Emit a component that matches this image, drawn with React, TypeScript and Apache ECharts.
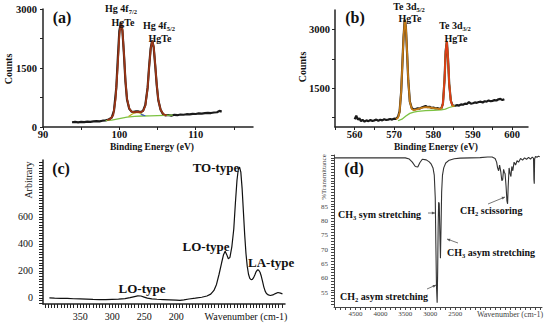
import React, { useEffect, useRef } from "react";
import * as echarts from "echarts";

const SERIF = "Liberation Serif";

// ---------- Panel (a): Hg 4f XPS ----------
const hgData: [number, number][] = [
  [93.8, 120], [94.2, 128], [94.6, 118], [95.0, 132], [95.4, 125], [95.8, 138], [96.2, 130], [96.6, 142],
  [97.0, 150], [97.4, 145], [97.8, 160], [98.2, 170], [98.6, 190], [99.0, 240], [99.3, 420], [99.6, 1000],
  [99.8, 1750], [100.0, 2450], [100.2, 2650], [100.4, 2450], [100.6, 1850], [100.8, 1150], [101.0, 700],
  [101.3, 460], [101.6, 390], [101.9, 385], [102.2, 400], [102.5, 395], [102.8, 380], [103.1, 410],
  [103.4, 560], [103.7, 1000], [103.9, 1550], [104.1, 2000], [104.3, 2200], [104.5, 2020], [104.7, 1550],
  [104.9, 1050], [105.1, 680], [105.4, 440], [105.7, 330], [106.0, 295], [106.4, 305], [106.8, 290],
  [107.2, 310], [107.6, 300], [108.0, 318], [108.4, 312], [108.8, 325], [109.2, 320], [109.6, 335],
  [110.0, 330], [110.4, 345], [110.8, 340], [111.2, 352], [111.6, 360], [112.0, 355], [112.4, 368],
  [112.8, 375], [113.1, 410], [113.4, 390],
];
const hgFit: [number, number][] = [
  [98.4, 175], [98.8, 200], [99.2, 300], [99.5, 700], [99.8, 1600], [100.0, 2350], [100.2, 2640],
  [100.4, 2480], [100.6, 1880], [100.8, 1180], [101.0, 720], [101.3, 470], [101.6, 390], [102.0, 375],
  [102.4, 385], [102.8, 380], [103.1, 400], [103.4, 540], [103.7, 980], [103.9, 1520], [104.1, 1980],
  [104.3, 2190], [104.5, 2040], [104.7, 1580], [104.9, 1070], [105.1, 690], [105.4, 440], [105.8, 320],
  [106.2, 295],
];
const hgBackground: [number, number][] = [
  [98.2, 160], [99, 175], [100, 215], [101, 250], [102, 270], [103, 280], [104, 285], [105, 290],
  [106, 295], [107, 300],
];
const hgSatellite: [number, number][] = [
  [101.2, 265], [101.6, 320], [102.0, 360], [102.4, 370], [102.8, 345], [103.2, 290],
];
const hgSatellite2: [number, number][] = [[102.8, 330], [103.1, 300], [103.4, 285]];
const hgXTicks = [90, 95, 100, 105, 110, 115];
const hgXLabels = [90, 100, 110];
const hgYTicks = [0, 750, 1500, 2250, 3000];
const hgYLabels = [0, 1500, 3000];

// ---------- Panel (b): Te 3d XPS ----------
const teData: [number, number][] = [
  [560, 700], [560.4, 790], [560.8, 690], [561.2, 720], [561.6, 650], [562, 680], [562.5, 640], [563, 670],
  [563.5, 650], [564, 680], [564.5, 655], [565, 670], [565.5, 690], [566, 660], [566.5, 685], [567, 670],
  [567.5, 700], [568, 680], [568.5, 690], [569, 705], [569.5, 690], [570, 715], [570.5, 710], [571, 760],
  [571.4, 900], [571.8, 1400], [572.1, 2100], [572.4, 2800], [572.7, 3250], [573.0, 3050], [573.3, 2400],
  [573.6, 1700], [574.0, 1150], [574.5, 980], [575, 950], [575.5, 960], [576, 980], [576.5, 970],
  [577, 1000], [577.5, 1020], [578, 1040], [578.5, 1010], [579, 1020], [579.5, 990], [580, 1000],
  [580.5, 975], [581, 985], [581.5, 960], [582, 980], [582.4, 1100], [582.8, 1700], [583.1, 2450],
  [583.4, 2700], [583.7, 2250], [584.0, 1600], [584.4, 1180], [584.8, 1060], [585.3, 1040], [586, 1060],
  [586.5, 1050], [587, 1080], [587.5, 1070], [588, 1100], [588.5, 1090], [589, 1140], [589.5, 1100],
  [590, 1110], [590.5, 1130], [591, 1120], [591.5, 1140], [592, 1150], [592.5, 1130], [593, 1160],
  [593.5, 1150], [594, 1180], [594.5, 1160], [595, 1170], [595.5, 1190], [596, 1180], [596.5, 1210],
  [597, 1220], [597.5, 1190], [598, 1210],
];
const teFit: [number, number][] = [
  [570.5, 700], [571, 740], [571.4, 880], [571.8, 1400], [572.1, 2100], [572.4, 2800], [572.7, 3230],
  [573.0, 3060], [573.3, 2420], [573.6, 1700], [574.0, 1150], [574.5, 960], [575, 930], [576, 960],
  [577, 990], [578, 1010], [579, 1000], [580, 985], [581, 970], [581.5, 960], [582, 975], [582.4, 1090],
  [582.8, 1700], [583.1, 2430], [583.4, 2690], [583.7, 2260], [584.0, 1600], [584.4, 1170], [584.8, 1050],
  [585.3, 1030],
];
const tePeak2: [number, number][] = [
  [582.2, 1000], [582.5, 1200], [582.8, 1700], [583.1, 2430], [583.4, 2690], [583.7, 2260], [584.0, 1600],
  [584.4, 1170], [584.8, 1060],
];
const teBackground: [number, number][] = [
  [571, 660], [572, 700], [573, 780], [574, 850], [575, 880], [576, 900], [578, 920], [580, 930],
  [582, 940], [583, 960], [584, 1000], [585, 1030], [585.5, 1040],
];
const teXTicks = [555, 560, 565, 570, 575, 580, 585, 590, 595, 600];
const teXLabels = [560, 570, 580, 590, 600];
const teYTicks = [750, 1500, 2250, 3000];
const teYLabels = [1500, 3000];

// ---------- Panel (c): Raman ----------
const ramanData: [number, number][] = [
  [398, 0], [390, -2], [380, -3], [370, -4], [360, -6], [350, -7], [340, -9], [330, -11], [320, -12],
  [310, -13], [300, -11], [290, -9], [280, -5], [272, 2], [265, 10], [260, 15], [255, 14], [250, 6],
  [245, -2], [238, -7], [230, -10], [220, -12], [210, -14], [200, -16], [194, -18], [188, -14], [180, -8],
  [170, -2], [160, 5], [152, 14], [146, 28], [141, 55], [137, 100], [133, 175], [129, 260], [126, 320],
  [123.5, 345], [121, 320], [118.5, 290], [116, 300], [113, 380], [110, 510], [107.5, 700], [105, 870],
  [103, 950], [101, 968], [99, 930], [97, 810], [95, 640], [93, 470], [91, 330], [89, 235], [87, 175],
  [85, 145], [83, 135], [81, 137], [79, 150], [77, 172], [75, 195], [73, 207], [71, 205], [69, 190],
  [67, 160], [65, 120], [63, 80], [61, 50], [59, 33], [56, 22], [53, 18], [49, 22], [45, 32], [41, 40],
  [37, 35], [34, 30],
];
const ramanXLabels = [350, 300, 250, 200];
const ramanYLabels = [0, 200, 400, 600];

// ---------- Panel (d): FTIR ----------
const ftirData: [number, number][] = [
  [4920, 102], [4600, 102], [4200, 102], [3800, 102], [3500, 102], [3420, 101.6], [3360, 100.5],
  [3300, 99], [3250, 98.8], [3210, 100.3], [3160, 101.5], [3080, 101.3], [3020, 100.6], [2980, 99.8],
  [2945, 98.5], [2920, 96], [2900, 88], [2888, 72], [2875, 57], [2862, 51.5], [2852, 62], [2842, 78],
  [2832, 86.5], [2820, 86], [2808, 76], [2796, 67], [2784, 78], [2772, 90], [2755, 96], [2730, 98.5],
  [2690, 100.2], [2620, 101.2], [2520, 101.7], [2400, 101.9], [2200, 102], [2000, 102.1], [1850, 102.3],
  [1760, 102.3], [1700, 101.8], [1670, 100.5], [1650, 98.5], [1630, 97.5], [1610, 99.5], [1585, 97],
  [1565, 94], [1548, 94.5], [1530, 98], [1515, 97], [1500, 96.5], [1480, 92], [1463, 87], [1450, 86],
  [1438, 92], [1420, 98.5], [1400, 96.5], [1383, 95.5], [1365, 99], [1345, 97.5], [1320, 100.5],
  [1290, 99.5], [1260, 101], [1230, 100.5], [1190, 101.8], [1150, 101.2], [1110, 102], [1070, 101.5],
  [1030, 102.2], [990, 101.6], [955, 102.3], [930, 101.8], [922, 94.5], [915, 93], [908, 101.6],
  [890, 102.5], [860, 102.2], [830, 102.6], [805, 102.4],
];
const ftirXLabels = [4500, 4000, 3500, 3000, 2500];
const ftirYLabels = [55, 60, 65, 70, 75, 80, 85];

function steps(from: number, to: number, step: number): number[] {
  const out: number[] = [];
  for (let v = from; v <= to + 1e-9; v += step) out.push(Math.round(v * 1000) / 1000);
  return out;
}

function axis(o: {
  grid: number; min: number; max: number; inverse?: boolean; ticks: number[]; labels: number[];
  fontSize: number; bold?: boolean; color?: string; margin: number; tickLen?: number; lineColor?: string; lineWidth?: number;
}) {
  return {
    type: "value",
    gridIndex: o.grid,
    min: o.min,
    max: o.max,
    inverse: !!o.inverse,
    axisLine: { show: true, onZero: false, lineStyle: { color: o.lineColor || "#222", width: o.lineWidth || 1.5 } },
    axisTick: { show: true, customValues: o.ticks, length: o.tickLen || 3, lineStyle: { color: o.lineColor || "#222", width: 1 } },
    axisLabel: {
      show: true,
      customValues: o.labels,
      formatter: (v: number) => String(v),
      fontFamily: SERIF,
      fontSize: o.fontSize,
      fontWeight: o.bold ? "bold" : "normal",
      color: o.color || "#111",
      margin: o.margin,
    },
    splitLine: { show: false },
  };
}

function line(data: [number, number][], idx: number, color: string, width: number, z = 2) {
  return {
    type: "line",
    xAxisIndex: idx,
    yAxisIndex: idx,
    data,
    showSymbol: false,
    symbol: "none",
    silent: true,
    z,
    lineStyle: { color, width },
  };
}

function txt(x: number, y: number, text: string, size: number, bold: boolean, extra: any = {}) {
  const font = `${bold ? "bold " : ""}${size}px ${SERIF}`;
  return {
    type: "text",
    x,
    y,
    rotation: extra.rotation || 0,
    z: 100,
    style: {
      text,
      font,
      fill: extra.fill || "#111",
      textAlign: extra.align || "center",
      align: extra.align || "center",
      textVerticalAlign: "middle",
      verticalAlign: "middle",
    },
  };
}

function subTxt(x: number, y: number, main: string, sub: string, rest: string, size: number, subSize: number, align = "center") {
  const f = { fontFamily: SERIF, fontWeight: "bold", fill: "#111" };
  return {
    type: "text",
    x,
    y,
    z: 100,
    style: {
      text: `{m|${main}}{s|${sub}}` + (rest ? `{m|${rest}}` : ""),
      rich: {
        m: { ...f, fontSize: size, lineHeight: size + 3 },
        s: { ...f, fontSize: subSize, lineHeight: subSize + 1, verticalAlign: "bottom" },
      },
      textAlign: align,
      align,
      textVerticalAlign: "middle",
      verticalAlign: "middle",
    },
  };
}

function arrow(x1: number, y1: number, x2: number, y2: number) {
  const ang = Math.atan2(y2 - y1, x2 - x1);
  const L = 3.5;
  const a1 = ang + Math.PI - 0.45;
  const a2 = ang + Math.PI + 0.45;
  return [
    { type: "line", z: 100, shape: { x1, y1, x2, y2 }, style: { stroke: "#555", lineWidth: 0.8 } },
    {
      type: "polygon",
      z: 100,
      shape: {
        points: [
          [x2, y2],
          [x2 + L * Math.cos(a1), y2 + L * Math.sin(a1)],
          [x2 + L * Math.cos(a2), y2 + L * Math.sin(a2)],
        ],
      },
      style: { fill: "#555" },
    },
  ];
}

export default function App() {
  const ref = useRef<HTMLDivElement>(null);
  useEffect(() => {
    if (!ref.current) return;
    const chart = echarts.init(ref.current, null, { renderer: "svg", width: 550, height: 325 });
    const option: any = {
      animation: false,
      backgroundColor: "#fff",
      grid: [
        { left: 43, top: 9, width: 210, height: 118 },
        { left: 335, top: 10, width: 193, height: 117 },
        { left: 43, top: 160, width: 242, height: 144 },
        { left: 334, top: 155, width: 208, height: 152 },
      ],
      xAxis: [
        axis({ grid: 0, min: 90, max: 117.5, ticks: hgXTicks, labels: hgXLabels, fontSize: 10.5, bold: true, margin: 2 }),
        axis({ grid: 1, min: 555, max: 604, ticks: teXTicks, labels: teXLabels, fontSize: 10.5, bold: true, margin: 2 }),
        axis({ grid: 2, min: 30, max: 408, inverse: true, ticks: steps(35, 405, 5), labels: ramanXLabels, fontSize: 10, margin: 7, tickLen: 4 }),
        axis({ grid: 3, min: 760, max: 4930, inverse: true, ticks: steps(800, 4900, 100), labels: ftirXLabels, fontSize: 7, margin: 3, color: "#444", lineColor: "#444", lineWidth: 1 }),
      ],
      yAxis: [
        axis({ grid: 0, min: 0, max: 3000, ticks: hgYTicks, labels: hgYLabels, fontSize: 10.5, bold: true, margin: 6 }),
        axis({ grid: 1, min: 500, max: 3500, ticks: teYTicks, labels: teYLabels, fontSize: 10.5, bold: true, margin: 5 }),
        axis({ grid: 2, min: -45, max: 1020, ticks: steps(-40, 1000, 20), labels: ramanYLabels, fontSize: 10, margin: 10, tickLen: 4 }),
        axis({ grid: 3, min: 50, max: 103, ticks: steps(51, 103, 1), labels: ftirYLabels, fontSize: 7, margin: 6, color: "#444", lineColor: "#444", lineWidth: 1 }),
      ],
      series: [
        line(hgData, 0, "#1a1a1a", 2.2, 2),
        line(hgBackground, 0, "#7cc242", 1.3, 3),
        line(hgSatellite, 0, "#b8b020", 1.2, 3),
        line(hgSatellite2, 0, "#3a5ad0", 1.2, 3),
        line(hgFit, 0, "#9a3516", 1.8, 4),
        line(teData, 1, "#1a1a1a", 2.2, 2),
        line(teBackground, 1, "#7cc242", 1.3, 3),
        line(teFit, 1, "#c47a16", 1.8, 4),
        line(tePeak2, 1, "#dd3a18", 1.6, 5),
        line(ramanData, 2, "#111", 1.2, 2),
        line(ftirData, 3, "#333", 1.1, 2),
      ],
      graphic: {
        elements: [
          // panel (a)
          txt(62, 17, "(a)", 16, true),
          txt(8, 69, "Counts", 10, true, { rotation: Math.PI / 2 }),
          txt(152, 147, "Binding Energy (eV)", 9.5, true),
          subTxt(121, 8, "Hg 4f", "7/2", "", 10, 6.5),
          txt(123, 22, "HgTe", 10, true),
          subTxt(159, 25, "Hg 4f", "5/2", "", 10, 6.5),
          txt(160, 38, "HgTe", 10, true),
          // panel (b)
          txt(355, 17, "(b)", 16, true),
          txt(302, 67, "Counts", 10, true, { rotation: Math.PI / 2 }),
          txt(436, 147, "Binding Energy (eV)", 9.5, true),
          subTxt(409, 6, "Te 3d", "5/2", "", 10, 6.5),
          txt(410, 18, "HgTe", 10, true),
          subTxt(455, 25, "Te 3d", "3/2", "", 10, 6.5),
          txt(456, 38, "HgTe", 10, true),
          // panel (c)
          txt(61, 168, "(c)", 16, true),
          txt(28, 180, "Arbitrary", 10, false, { rotation: Math.PI / 2 }),
          txt(216, 167, "TO-type", 13, true),
          txt(206, 246, "LO-type", 13, true),
          txt(248, 262, "LA-type", 13, true, { align: "left" }),
          txt(142, 288, "LO-type", 13, true),
          txt(246, 316, "Wavenumber (cm-1)", 10, false),
          // panel (d)
          txt(354, 168, "(d)", 16, true),
          txt(324, 177, "%Transmittance", 7, false, { rotation: Math.PI / 2, fill: "#444" }),
          txt(510, 314, "Wavenumber (cm-1)", 8, false, { fill: "#444" }),
          subTxt(338, 214, "CH", "3", " sym stretching", 10, 6.5, "left"),
          subTxt(460, 210, "CH", "2", " scissoring", 10, 6.5, "left"),
          subTxt(447, 252, "CH", "3", " asym stretching", 10, 6.5, "left"),
          subTxt(340, 296, "CH", "2", " asym stretching", 10, 6.5, "left"),
          ...arrow(428, 213, 435, 213),
          ...arrow(488, 204, 505, 197),
          ...arrow(458, 243, 447, 239),
          ...arrow(427, 289, 436, 285),
        ],
      },
    };
    chart.setOption(option);
    return () => chart.dispose();
  }, []);
  return (
    <div
      ref={ref}
      style={{ position: "absolute", left: 0, top: 0, width: 550, height: 325, background: "#fff" }}
    />
  );
}
